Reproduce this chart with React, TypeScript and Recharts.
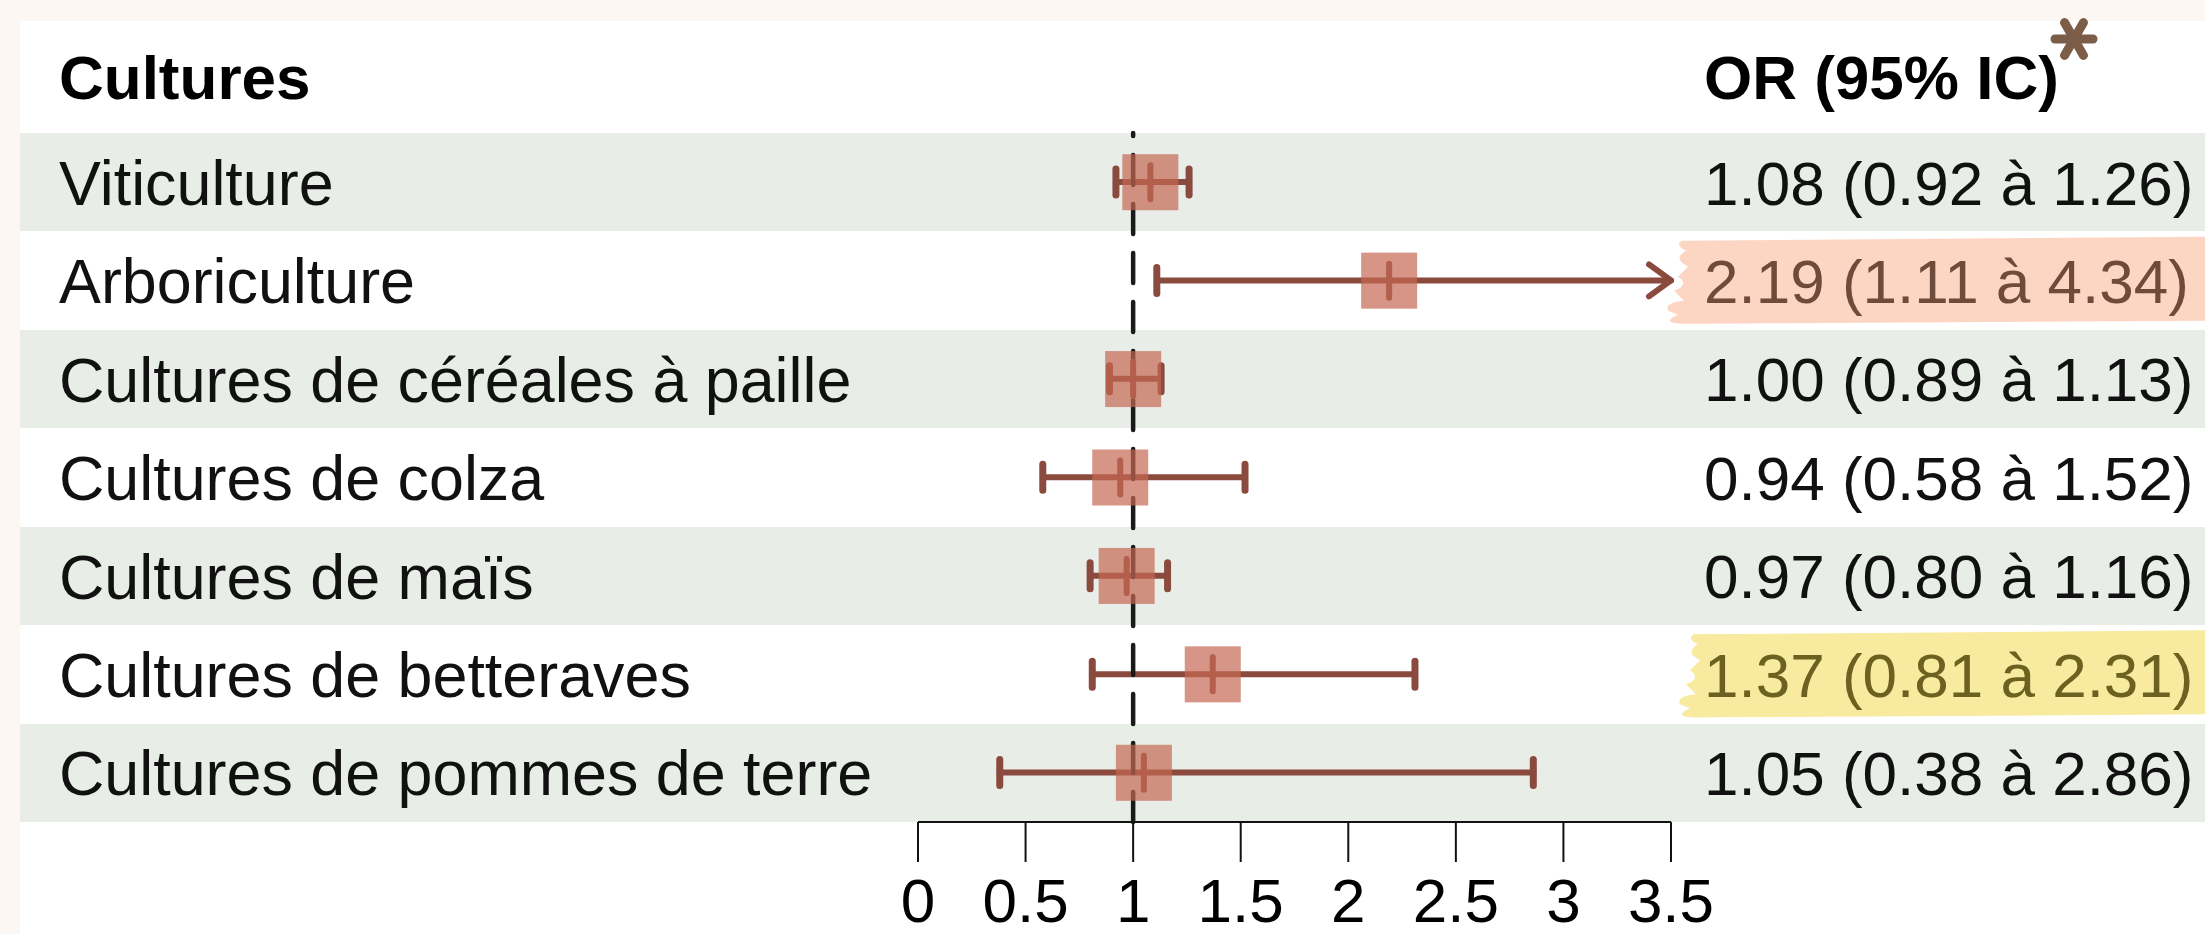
import React from "react";
import { ComposedChart, XAxis, YAxis, Bar, Scatter, ReferenceLine } from "recharts";

// --- data ---
const crops = [
  "Viticulture",
  "Arboriculture",
  "Cultures de céréales à paille",
  "Cultures de colza",
  "Cultures de maïs",
  "Cultures de betteraves",
  "Cultures de pommes de terre",
];
const oddsRatios = [1.08, 2.19, 1.0, 0.94, 0.97, 1.37, 1.05];
const ciLower = [0.92, 1.11, 0.89, 0.58, 0.8, 0.81, 0.38];
const ciUpper = [1.26, 4.34, 1.13, 1.52, 1.16, 2.31, 2.86];
const xTicks = [0, 0.5, 1, 1.5, 2, 2.5, 3, 3.5];

const X_MAX = 3.5;
const W = 2205;
const H = 934;
const MARGIN = { top: 133, right: 534, bottom: 12, left: 858 };
const X_AXIS_H = 100;
const BAND = (H - MARGIN.top - MARGIN.bottom - X_AXIS_H) / crops.length;
const FONT = "'Liberation Sans', Arial, Helvetica, sans-serif";
const LINE = "#8a4a3e";

// highlighter marks over two of the result labels
const HIGHLIGHTS: Record<string, { fill: string; ink: string; x0: number }> = {
  Arboriculture: { fill: "#fdd6c3", ink: "#6f4b3c", x0: 1664 },
  "Cultures de betteraves": { fill: "#f8ea9e", ink: "#6c6121", x0: 1676 },
};

const fmt = (v: number) => v.toFixed(2);

const rows = crops.map((name, i) => ({
  name,
  or: oddsRatios[i],
  lo: ciLower[i],
  hi: ciUpper[i],
  ci: [ciLower[i], Math.min(ciUpper[i], X_MAX)],
  label: `${fmt(oddsRatios[i])} (${fmt(ciLower[i])} à ${fmt(ciUpper[i])})`,
}));

const brushPath = (x0: number, cy: number) =>
  `M ${x0 + 18} ${cy - 40} L ${W} ${cy - 44} L ${W} ${cy + 40} L ${x0 + 30} ${cy + 43} ` +
  `Q ${x0 - 8} ${cy + 44} ${x0 + 14} ${cy + 34} L ${x0 + 4} ${cy + 30} ` +
  `Q ${x0} ${cy + 22} ${x0 + 20} ${cy + 20} L ${x0 + 10} ${cy + 10} ` +
  `Q ${x0 + 26} ${cy + 4} ${x0 + 14} ${cy - 4} L ${x0 + 24} ${cy - 14} ` +
  `Q ${x0 + 8} ${cy - 22} ${x0 + 22} ${cy - 30} Q ${x0 + 10} ${cy - 36} ${x0 + 18} ${cy - 40} Z`;

function RowTick(props: any) {
  const { y, payload, index } = props;
  const row = rows.find((r) => r.name === payload.value) || rows[index];
  const hl = HIGHLIGHTS[row.name];
  return (
    <g>
      <text x={59} y={y} dy="0.36em" fontSize={62.8} fontFamily={FONT} fill="#111">
        {row.name}
      </text>
      {hl && <path d={brushPath(hl.x0, y)} fill={hl.fill} />}
      <text x={1704} y={y} dy="0.36em" fontSize={62} fontFamily={FONT} fill={hl ? hl.ink : "#111"}>
        {row.label}
      </text>
    </g>
  );
}

function CiShape(props: any) {
  const { x, y, width, height, payload } = props;
  const cy = y + height / 2;
  const x1 = x + width;
  const capH = 13;
  const clipped = payload.hi > X_MAX;
  return (
    <g stroke={LINE} strokeWidth={6} strokeLinecap="round" strokeLinejoin="round" fill="none">
      <line x1={x} y1={cy} x2={x1} y2={cy} />
      <line x1={x} y1={cy - capH} x2={x} y2={cy + capH} strokeWidth={7} />
      {clipped ? (
        <polyline points={`${x1 - 22},${cy - 16} ${x1},${cy} ${x1 - 22},${cy + 16}`} />
      ) : (
        <line x1={x1} y1={cy - capH} x2={x1} y2={cy + capH} strokeWidth={7} />
      )}
    </g>
  );
}

function OrBox(props: any) {
  const { cx, cy } = props;
  const s = 56;
  return (
    <g>
      <line x1={cx} y1={cy - 17} x2={cx} y2={cy + 17} stroke={LINE} strokeWidth={6} strokeLinecap="round" />
      <rect x={cx - s / 2} y={cy - s / 2} width={s} height={s} fill="rgb(196,104,82)" fillOpacity={0.7} />
    </g>
  );
}

function Asterisk() {
  const r = 19;
  const angles = [0, 60, 120];
  return (
    <svg width={60} height={60} style={{ position: "absolute", left: 2044, top: 9 }}>
      {angles.map((a) => {
        const rad = (a * Math.PI) / 180;
        return (
          <line
            key={a}
            x1={30 - r * Math.cos(rad)}
            y1={30 - r * Math.sin(rad)}
            x2={30 + r * Math.cos(rad)}
            y2={30 + r * Math.sin(rad)}
            stroke="#7b5d48"
            strokeWidth={9}
            strokeLinecap="round"
          />
        );
      })}
    </svg>
  );
}

export default function App() {
  return (
    <div style={{ position: "absolute", left: 0, top: 0, width: W, height: H, background: "#fdf7f3", overflow: "hidden" }}>
      <div style={{ position: "absolute", left: 20, top: 21, right: 0, bottom: 0, background: "#ffffff" }} />
      {rows.map((r, i) =>
        i % 2 === 0 ? (
          <div
            key={r.name}
            style={{
              position: "absolute",
              left: 20,
              right: 0,
              top: MARGIN.top + i * BAND,
              height: BAND,
              background: "#e8ede7",
            }}
          />
        ) : null
      )}
      <div style={{ position: "absolute", left: 0, top: 0 }}>
        <ComposedChart width={W} height={H} data={rows} layout="vertical" margin={MARGIN}>
          <YAxis
            type="category"
            dataKey="name"
            width={60}
            axisLine={false}
            tickLine={false}
            interval={0}
            tick={<RowTick />}
          />
          <XAxis
            type="number"
            domain={[0, X_MAX]}
            ticks={xTicks}
            interval={0}
            height={X_AXIS_H}
            tickSize={40}
            tickMargin={16}
            axisLine={{ stroke: "#111", strokeWidth: 2 }}
            tickLine={{ stroke: "#111", strokeWidth: 2 }}
            tick={{ fontSize: 62, fill: "#000", fontFamily: FONT }}
          />
          <ReferenceLine x={1} stroke="#1a1a1a" strokeWidth={4.5} strokeDasharray="30 19" strokeLinecap="round" />
          <Bar dataKey="ci" barSize={30} isAnimationActive={false} shape={<CiShape />} />
          <Scatter dataKey="or" isAnimationActive={false} shape={<OrBox />} />
        </ComposedChart>
      </div>
      <svg width={W} height={130} style={{ position: "absolute", left: 0, top: 0 }}>
        <text x={59} y={99} fontSize={62} fontWeight="bold" fontFamily={FONT} fill="#000">
          Cultures
        </text>
        <text x={1704} y={99} fontSize={62} fontWeight="bold" fontFamily={FONT} fill="#000">
          OR (95% IC)
        </text>
      </svg>
      <Asterisk />
    </div>
  );
}
